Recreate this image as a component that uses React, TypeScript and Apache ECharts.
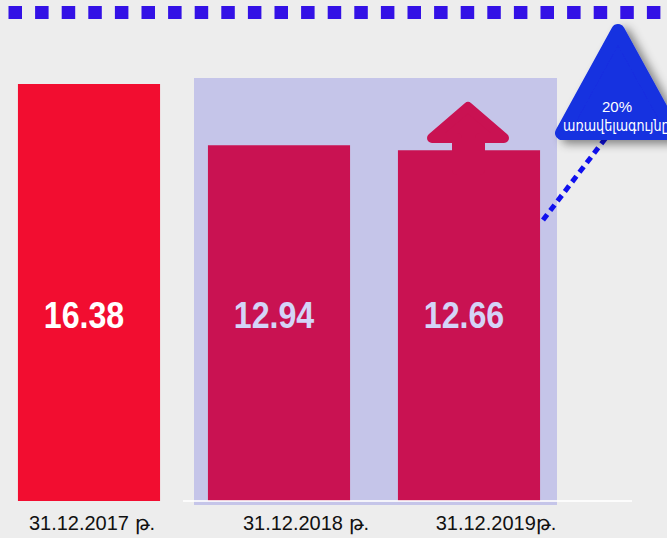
import React, { useEffect, useRef } from "react";
import * as echarts from "echarts";

const categories = ["31.12.2017 թ.", "31.12.2018 թ.", "31.12.2019թ."];
const values = [16.38, 12.94, 12.66];
const calloutPercent = "20%";
const calloutText = "առավելագույնը";

const Y_MIN = -7;
const Y_MAX = 20;
const LABEL_LEVEL = 3.4;
const LABEL_DX = -5;
const labelPads = [6, 54, 54];

export default function App() {
  const ref = useRef<HTMLDivElement>(null);
  useEffect(() => {
    if (!ref.current) return;
    const chart = echarts.init(ref.current, null, { renderer: "svg" });
    const labelFont = "'Liberation Sans', Arial, sans-serif";
    const option: any = {
      animation: false,
      backgroundColor: "#ededed",
      grid: { left: -6, right: 103, top: 19.4, bottom: 37, outerBoundsMode: "none", containLabel: false },
      xAxis: {
        type: "category",
        data: categories,
        axisLine: { show: false },
        axisTick: { show: false },
        axisLabel: {
          margin: 12,
          formatter: (val: string, i: number) => `{p${i}|${val}}`,
          rich: {
            p0: { padding: [0, 0, 0, labelPads[0]], fontSize: 20, color: "#111", fontFamily: labelFont },
            p1: { padding: [0, 0, 0, labelPads[1]], fontSize: 20, color: "#111", fontFamily: labelFont },
            p2: { padding: [0, 0, 0, labelPads[2]], fontSize: 20, color: "#111", fontFamily: labelFont },
          },
        },
      },
      yAxis: { type: "value", min: Y_MIN, max: Y_MAX, show: false, splitLine: { show: false } },
      series: [
        {
          type: "custom",
          z: 2,
          data: values.map((v, i) => [i, v]),
          renderItem: (params: any, api: any) => {
            const idx = api.value(0);
            const v = api.value(1);
            const top = api.coord([idx, v]);
            const base = api.coord([idx, Y_MIN]);
            const bw = api.size([1, 0])[0] * 0.748;
            const lab = api.coord([idx, LABEL_LEVEL]);
            return {
              type: "group",
              children: [
                { type: "rect", shape: { x: top[0] - bw / 2, y: top[1], width: bw, height: base[1] - top[1] }, style: { fill: "#f20d30" } },
                {
                  type: "text",
                  x: lab[0] + LABEL_DX,
                  y: lab[1],
                  scaleX: 0.87,
                  style: {
                    text: values[idx].toFixed(2),
                    fill: "#ffffff",
                    font: "bold 37px 'Liberation Sans', Arial, sans-serif",
                    align: "center",
                    verticalAlign: "middle",
                    textAlign: "center",
                    textVerticalAlign: "middle",
                  },
                },
              ],
            };
          },
        },
      ],
      graphic: [
        {
          type: "polygon",
          z: 5,
          shape: { points: [[468, 107], [504, 138], [480, 138], [480, 170], [457, 170], [457, 138], [432, 138]] },
          style: { fill: "#f20d30", stroke: "#f20d30", lineWidth: 10, lineJoin: "round" },
        },
        {
          type: "rect",
          z: 10,
          shape: { x: 194, y: 78, width: 363, height: 427 },
          style: { fill: "rgba(40,40,220,0.2)" },
        },
        {
          type: "line",
          z: 11,
          shape: { x1: 183, y1: 501, x2: 632, y2: 501 },
          style: { stroke: "rgba(255,255,255,0.8)", lineWidth: 2 },
        },
        {
          type: "line",
          z: 20,
          shape: { x1: 8.5, y1: 12.5, x2: 690, y2: 12.5 },
          style: { stroke: "#3311e6", lineWidth: 13, lineDash: [13.5, 13.1] },
        },
        {
          type: "line",
          z: 20,
          shape: { x1: 543, y1: 220, x2: 608, y2: 135 },
          style: { stroke: "#1010ee", lineWidth: 5, lineDash: [7, 5] },
        },
        {
          type: "polygon",
          z: 21,
          shape: { points: [[618, 31], [562, 133], [674, 133]] },
          style: {
            fill: "#1530e0",
            stroke: "#1530e0",
            lineWidth: 14,
            lineJoin: "round",
            shadowBlur: 10,
            shadowOffsetX: 6,
            shadowOffsetY: 4,
            shadowColor: "rgba(0,0,0,0.45)",
          },
        },
        {
          type: "text",
          z: 22,
          x: 617,
          y: 106,
          style: {
            text: calloutPercent,
            fill: "#ffffff",
            font: "15px 'Liberation Sans', Arial, sans-serif",
            align: "center",
            verticalAlign: "middle",
            textAlign: "center",
            textVerticalAlign: "middle",
          },
        },
        {
          type: "text",
          z: 22,
          x: 563,
          y: 125,
          scaleX: 0.85,
          style: {
            text: calloutText,
            fill: "#ffffff",
            font: "15px 'Noto Sans', 'DejaVu Sans', sans-serif",
            align: "left",
            verticalAlign: "middle",
            textAlign: "left",
            textVerticalAlign: "middle",
          },
        },
      ],
    };
    chart.setOption(option);
    return () => chart.dispose();
  }, []);
  return <div ref={ref} style={{ position: "fixed", left: 0, top: 0, width: 667, height: 538 }} />;
}
